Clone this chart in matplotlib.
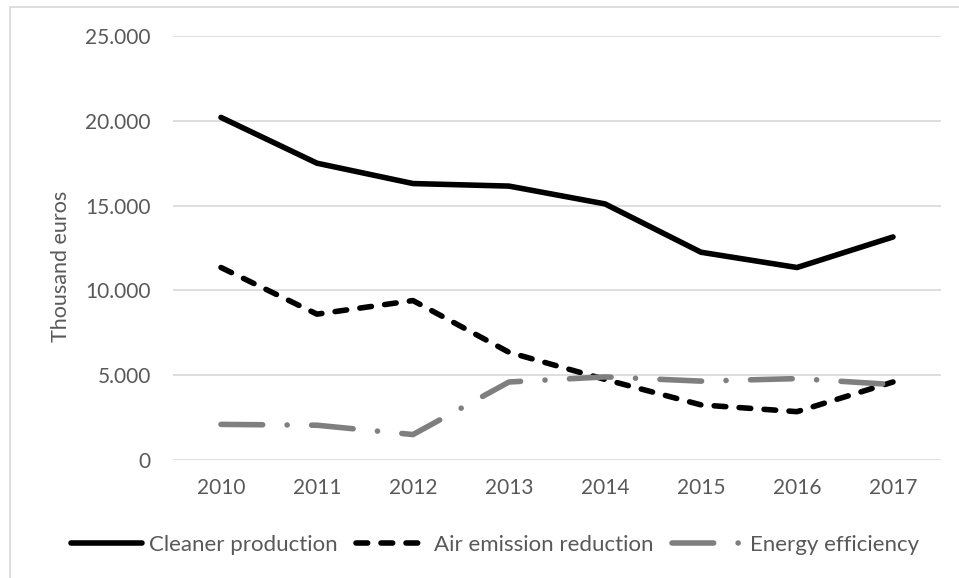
import matplotlib
matplotlib.use("Agg")
import matplotlib.pyplot as plt
from matplotlib.ticker import FuncFormatter
from matplotlib.patches import Rectangle

years = ["2010", "2011", "2012", "2013", "2014", "2015", "2016", "2017"]
cleaner_production = [20200, 17500, 16300, 16150, 15100, 12250, 11350, 13150]
air_emission_reduction = [11350, 8600, 9400, 6350, 4750, 3250, 2850, 4600]
energy_efficiency = [2100, 2050, 1500, 4600, 4900, 4650, 4800, 4450]
y_ticks = [0, 5000, 10000, 15000, 20000, 25000]

plt.rcParams["font.family"] = ["Lato", "DejaVu Sans"]
text_color = "#595959"
grid_color = "#d9d9d9"
fs = 15

fig = plt.figure(figsize=(9.59, 5.78), dpi=100)
ax = fig.add_axes([173 / 959, 1 - 460 / 578, 768 / 959, 424 / 578])

# outer chart border (cut off on the right and bottom)
fig.patches.append(Rectangle((10 / 959, -0.1), 1.2, 1 - 7 / 578 + 0.1,
                             transform=fig.transFigure, fill=False,
                             edgecolor=grid_color, linewidth=1.2))

x = range(len(years))
lw = 4
ax.plot(x, cleaner_production, color="black", lw=lw,
        solid_capstyle="round", solid_joinstyle="round", label="Cleaner production")
ax.plot(x, air_emission_reduction, color="black", lw=lw, dashes=(2.1, 2.4),
        dash_capstyle="round", dash_joinstyle="round", label="Air emission reduction")
ax.plot(x, energy_efficiency, color="#7f7f7f", lw=lw, dashes=(7.5, 4.4, 0.01, 4.4),
        dash_capstyle="round", dash_joinstyle="round", label="Energy efficiency")

ax.set_xlim(-0.5, len(years) - 0.5)
ax.set_ylim(0, 25000)
ax.set_xticks(list(x))
ax.set_xticklabels(years)
ax.set_yticks(y_ticks)
ax.yaxis.set_major_formatter(FuncFormatter(lambda v, p: f"{int(v):,}".replace(",", ".")))
ax.tick_params(length=0, labelsize=fs, labelcolor=text_color)
ax.tick_params(axis="y", pad=16)
ax.tick_params(axis="x", pad=13)
ax.grid(axis="y", color=grid_color, lw=1.2)
ax.set_axisbelow(True)
for s in ax.spines.values():
    s.set_visible(False)

fig.text(61 / 959, 1 - 266 / 578, "Thousand euros", rotation=90,
         ha="center", va="center", fontsize=fs + 0.5, color=text_color)

leg = fig.legend(loc="center", bbox_to_anchor=(495 / 959, 1 - 545 / 578), ncol=3,
                 frameon=False, fontsize=16, handlelength=3.2, handletextpad=0.3,
                 columnspacing=0.85, labelcolor=text_color)

fig.savefig("out.png", dpi=100)
